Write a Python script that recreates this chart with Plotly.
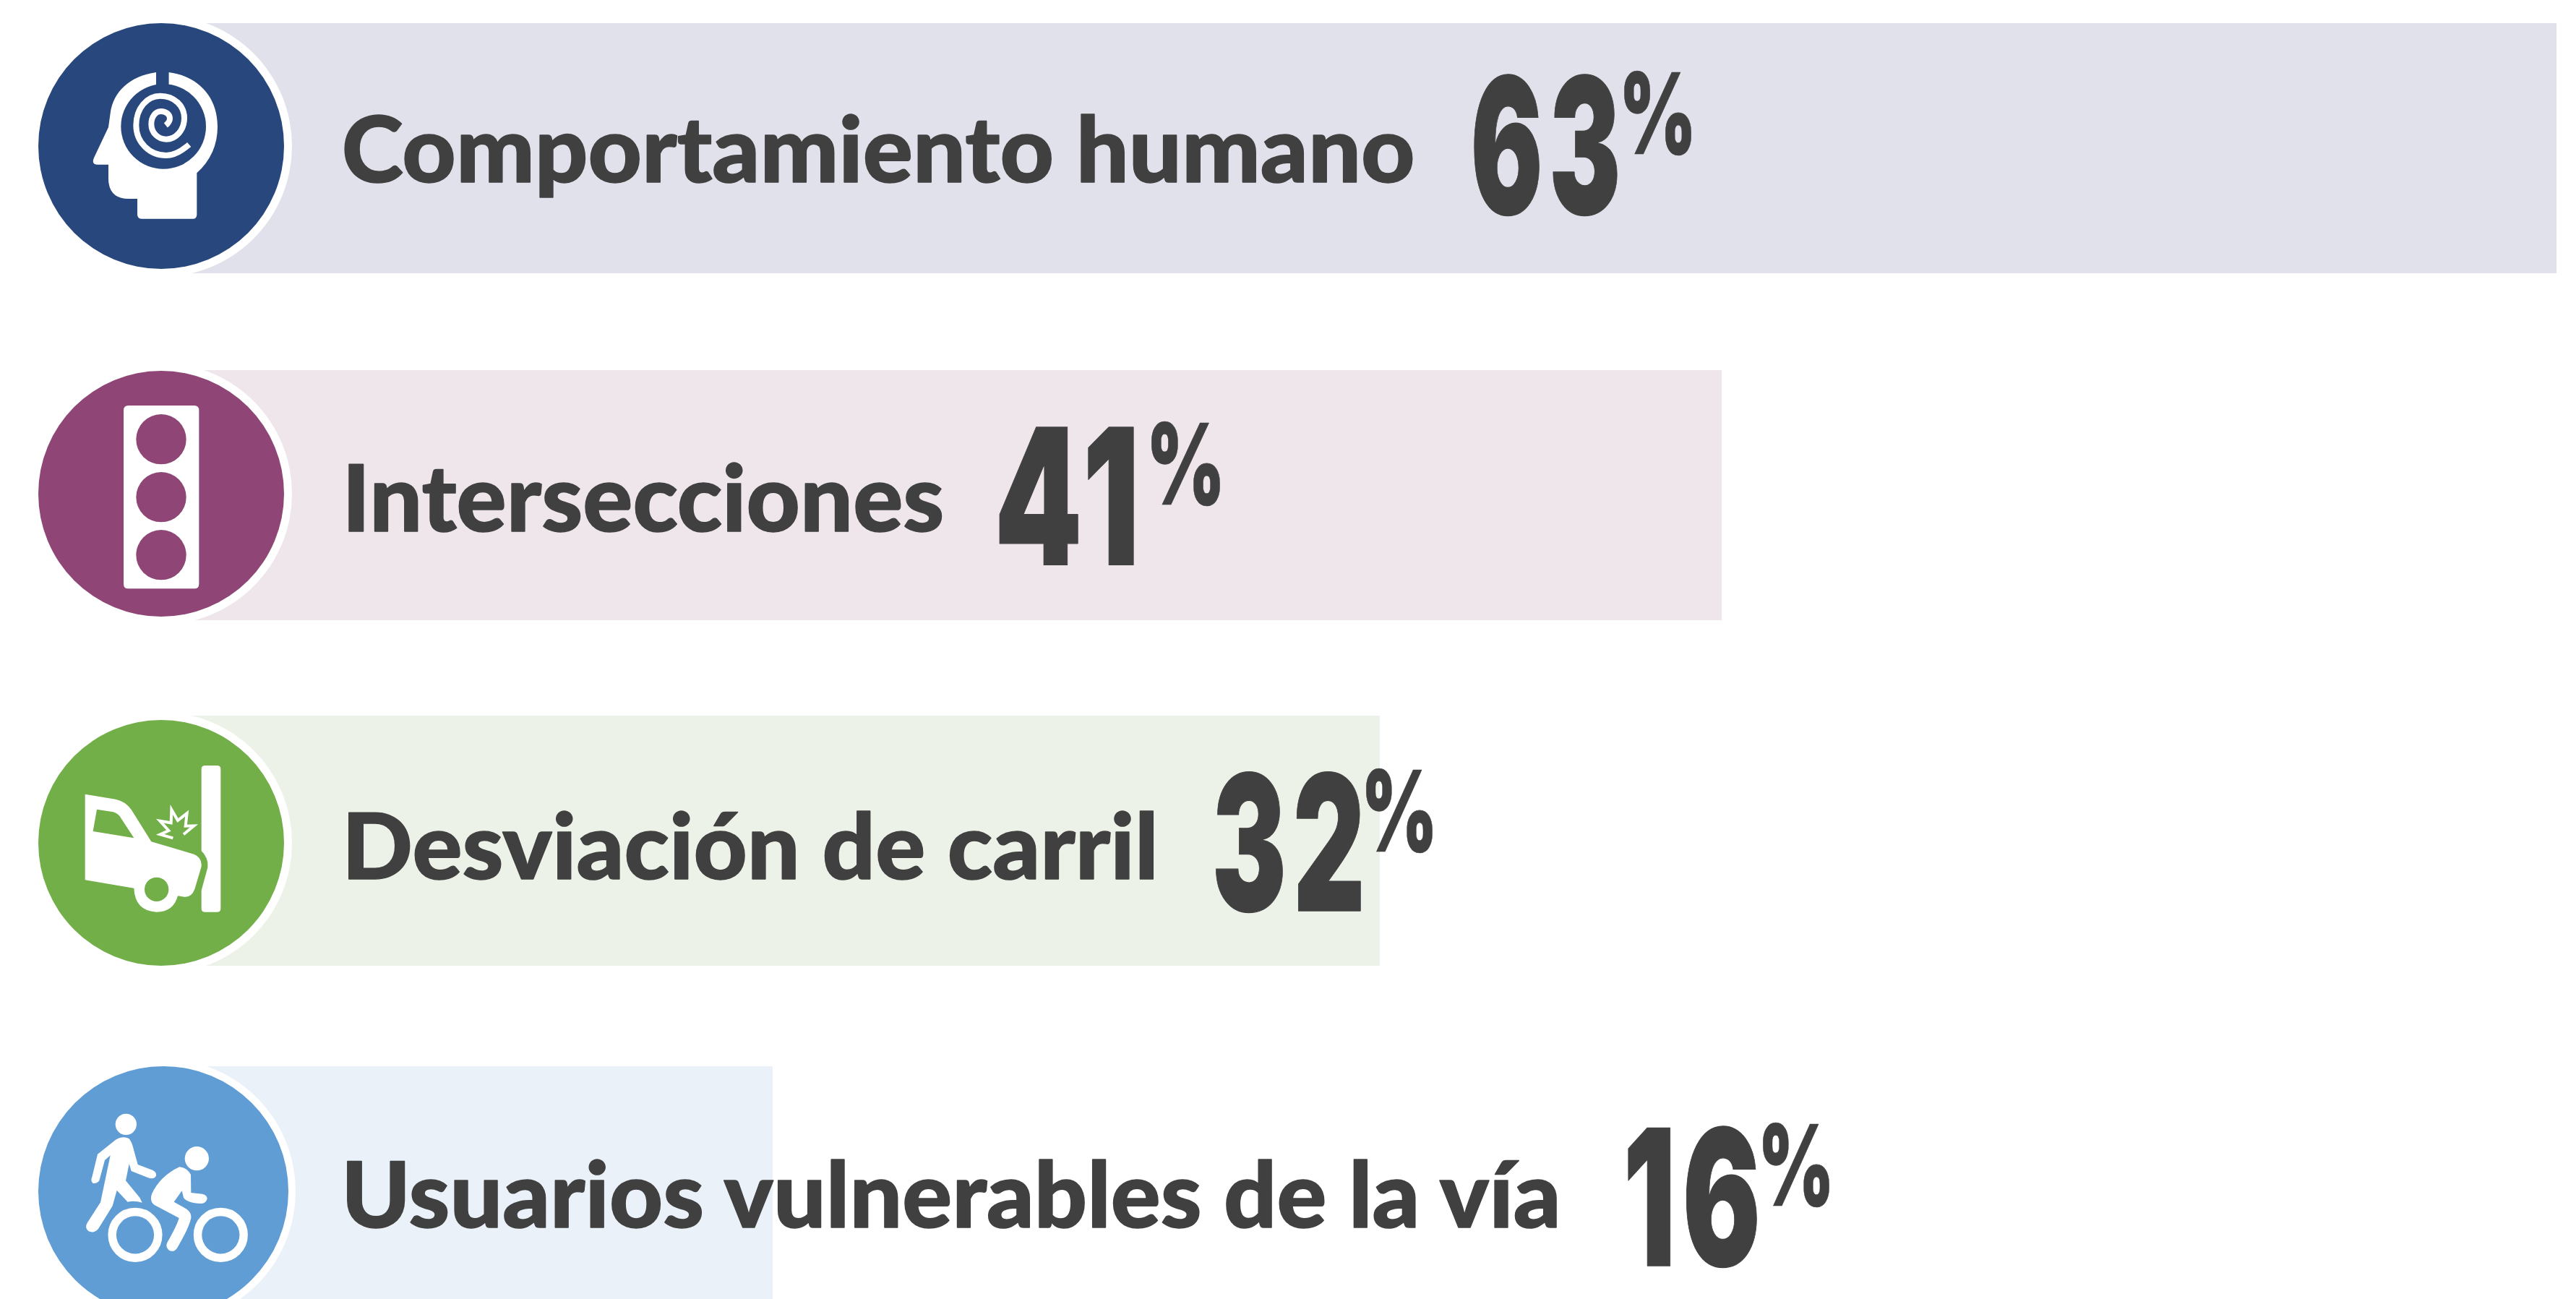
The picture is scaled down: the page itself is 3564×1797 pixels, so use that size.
import json
import re
import plotly.graph_objects as go

# ---- data ----
categories = ["Comportamiento humano", "Intersecciones", "Desviación de carril",
              "Usuarios vulnerables de la vía"]
values = [63, 41, 32, 16]
bar_colors = ["#E0E1EA", "#EFE6EB", "#EDF2E8", "#EAF1F9"]
disc_colors = ["#28477C", "#8F4676", "#72AF49", "#5F9DD4"]

# ---- layout constants (pixels) ----
W, H = 3564, 1797
TEXT = "#404040"
row_centers = [205, 685, 1163, 1648]
bar_height = 346
zero_px, px_per_pct = 229, 52.5
discs = [(223, 202, 170, 181), (223, 683, 170, 181), (223, 1166, 170, 181), (226, 1648, 173, 183)]
label_boxes = [(476, 1955, 157, 274), (482, 1304, 639, 737), (482, 1596, 1121, 1218), (480, 2161, 1603, 1700)]
number_boxes = [(2039, 2238, 102, 299), (1382, 1569, 590, 782), (1682, 1883, 1067, 1263), (2252, 2431, 1557, 1754)]
percent_boxes = [(2247, 2340, 98, 214), (1593, 1688, 583, 699), (1890, 1982, 1063, 1179), (2439, 2531, 1553, 1669)]
LABEL_FONT, NUMBER_FONT = "Lato", "Inter"
LABEL_STROKE, NUMBER_STROKE = 1.5, 1
NUMBER_SPACING = "0.06em"


def px(x, y):
    return x / W, 1 - y / H


def path(d, ox=0, oy=0):
    """Zoomed (3x) icon coordinates to paper coordinates."""
    nums = iter(range(10 ** 6))
    def conv(m):
        i = next(nums)
        v = float(m.group())
        return f"{(ox + v / 3) / W:.6f}" if i % 2 == 0 else f"{1 - (oy + v / 3) / H:.6f}"
    return re.sub(r"-?\d+\.?\d*", conv, d)


def rrect(x0, y0, x1, y1, r):
    return (f"M {x0+r} {y0} L {x1-r} {y0} Q {x1} {y0} {x1} {y0+r} L {x1} {y1-r} Q {x1} {y1} {x1-r} {y1} "
            f"L {x0+r} {y1} Q {x0} {y1} {x0} {y1-r} L {x0} {y0+r} Q {x0} {y0} {x0+r} {y0} Z")


shapes = []


def fill(d, color, ox=0, oy=0):
    shapes.append(dict(type="path", path=path(d, ox, oy), fillcolor=color, line_width=0, xref="paper", yref="paper"))


def stroke(d, color, width, ox=0, oy=0):
    shapes.append(dict(type="path", path=path(d, ox, oy), line=dict(color=color, width=width),
                       fillcolor="rgba(0,0,0,0)", xref="paper", yref="paper"))


def circle(cx, cy, r, color, ox=0, oy=0, scale=1.0, line=None):
    X, Y = ox + cx * scale, oy + cy * scale
    R = r * scale
    x0, y0 = px(X - R, Y - R)
    x1, y1 = px(X + R, Y + R)
    shapes.append(dict(type="circle", x0=x0, x1=x1, y0=y0, y1=y1, xref="paper", yref="paper",
                       fillcolor=color if line is None else "rgba(0,0,0,0)",
                       line=dict(width=0) if line is None else dict(color=color, width=line)))


for (cx, cy, r, ring), col in zip(discs, disc_colors):
    circle(cx, cy, ring, "#FFFFFF")
    circle(cx, cy, r, col)

# head icon
c = disc_colors[0]
fill("M 648 300 C 540 315 470 380 458 470 L 450 528 L 390 655 Q 378 683 405 683 L 450 683 L 450 740 "
     "Q 450 825 535 825 L 570 825 L 570 890 Q 570 908 590 908 L 800 908 Q 817 908 817 890 L 817 718 "
     "Q 903 640 903 525 C 903 400 820 315 700 300 L 700 360 L 648 360 Z", "#FFFFFF")
circle(678.5, 525, 176.5, c, scale=1 / 3)
fill("M 648 295 L 700 295 L 700 360 L 648 360 Z", c)
stroke("M 785 600 C 750 630 720 645 690 645 C 620 645 565 590 565 520 C 565 450 610 398 665 398 "
       "C 725 398 765 440 765 490 C 765 540 730 578 690 578 C 655 578 628 550 628 515 "
       "C 628 485 645 462 668 462 C 690 462 705 475 705 492 C 705 505 698 512 688 520", "#FFFFFF", 8)

# traffic light icon
c = disc_colors[1]
oy = 480
fill(rrect(513, 243, 826, 1003, 20), "#FFFFFF", 0, oy)
for cy in (383, 623, 863):
    circle(669, cy, 104, c, 0, oy, 1 / 3)

# crash icon
c = disc_colors[2]
oy = 970
fill(rrect(836, 267, 916, 875, 15), "#FFFFFF", 0, oy)
fill("M 830 615 Q 868 650 862 690 L 836 785 L 825 785 Z", c, 0, oy)
fill("M 353 386 L 480 407 Q 520 415 545 450 L 628 583 L 805 635 Q 842 650 835 690 L 808 780 "
     "Q 795 815 765 812 L 738 808 Q 720 875 650 875 Q 560 870 556 776 L 353 742 Z", "#FFFFFF", 0, oy)
fill("M 402 449 L 470 460 Q 490 465 502 485 L 556 568 L 386 540 Z", c, 0, oy)
circle(650, 781, 50, c, 0, oy, 1 / 3)
stroke("M 718 568 L 665 553 L 700 537 L 664 497 L 710 505 L 712 450 L 738 495 L 776 465 L 770 518 L 805 517 L 762 553",
       "#FFFFFF", 4, 0, oy)

# pedestrian and cyclist icon
oy = 1440
circle(523, 346, 44, "#FFFFFF", 0, oy, 1 / 3)
fill("M 405 470 L 480 410 Q 510 392 535 405 Q 545 415 552 440 L 572 513 L 635 537 Q 655 548 645 565 "
     "Q 635 575 615 568 L 545 540 L 536 510 L 522 580 L 580 650 L 590 671 Q 560 662 530 668 L 485 620 "
     "L 467 685 L 408 780 Q 390 800 368 790 Q 350 775 362 755 L 417 670 L 458 475 L 435 495 L 412 580 "
     "Q 400 595 385 590 Q 375 580 382 565 Z", "#FFFFFF", 0, oy)
circle(817, 488, 50, "#FFFFFF", 0, oy, 1 / 3)
fill("M 745 523 Q 775 525 792 555 L 793 630 L 840 635 Q 860 640 860 655 Q 855 675 835 675 Q 775 672 762 650 "
     "L 755 622 L 722 668 L 775 698 Q 795 712 793 735 Q 785 775 735 860 Q 720 880 700 868 Q 685 855 695 835 "
     "Q 735 765 743 735 L 640 680 Q 620 665 630 635 Q 665 560 745 523 Z", "#FFFFFF", 0, oy)
for cx in (561, 916):
    circle(cx, 805, 95.5, "#FFFFFF", 0, oy, 1 / 3, line=11.5)

fig = go.Figure(go.Bar(
    x=values, y=row_centers, orientation="h", width=bar_height,
    marker=dict(color=bar_colors, line_width=0), hoverinfo="skip",
))

# text: real text, fitted to its box by the page script below
annotations, boxes = [], []


def add_text(text, box, family, thick, spacing="0px"):
    x, y = px(box[0], box[3])
    annotations.append(dict(text=text, x=x, y=y, xref="paper", yref="paper", xanchor="left", yanchor="bottom",
                            showarrow=False, font=dict(family=family, size=(box[3] - box[2]) * 1.1, color=TEXT, weight=900)))
    boxes.append(list(box) + [thick, spacing])


for cat, val, lb, nb, pb in zip(categories, values, label_boxes, number_boxes, percent_boxes):
    add_text(cat, lb, LABEL_FONT, LABEL_STROKE)
    add_text(str(val), nb, NUMBER_FONT, NUMBER_STROKE, NUMBER_SPACING)
    add_text("%", pb, NUMBER_FONT, 0.5)

fig.update_layout(
    width=W, height=H, margin=dict(l=0, r=0, t=0, b=0), showlegend=False,
    paper_bgcolor="#FFFFFF", plot_bgcolor="#FFFFFF", bargap=0,
    xaxis=dict(range=[-zero_px / px_per_pct, (W - zero_px) / px_per_pct], visible=False, fixedrange=True),
    yaxis=dict(range=[H, 0], visible=False, fixedrange=True),
    shapes=shapes, annotations=annotations,
)

post = """
document.documentElement.style.overflow='hidden';
document.body.style.margin='0';
var boxes=%s;
var gd=document.getElementsByClassName('plotly-graph-div')[0];
var ctx=document.createElement('canvas').getContext('2d');
gd.querySelectorAll('text.annotation-text').forEach(function(el,i){
  var b=boxes[i], th=b[4];
  el.style.letterSpacing=b[5];
  var cs=getComputedStyle(el);
  ctx.font=cs.fontWeight+' '+cs.fontSize+' '+cs.fontFamily;
  ctx.letterSpacing=cs.letterSpacing=='normal'?'0px':cs.letterSpacing;
  var t=el.textContent, m=ctx.measureText(t);
  var ls=parseFloat(ctx.letterSpacing)||0;
  var l=-m.actualBoundingBoxLeft, r=m.actualBoundingBoxRight, a=-m.actualBoundingBoxAscent, d=m.actualBoundingBoxDescent;
  var sx=(b[1]-b[0]-th)/(r-l), sy=(b[3]-b[2]-th)/(d-a);
  var p=el.parentNode.getCTM(), root=el.ownerSVGElement.getCTM()||{e:0,f:0};
  var ox=p.e-(root.e||0), oy=p.f-(root.f||0);
  el.setAttribute('x',0); el.setAttribute('y',0); el.setAttribute('text-anchor','start');
  el.querySelectorAll('tspan').forEach(function(s){s.removeAttribute('x');s.removeAttribute('y');});
  el.setAttribute('transform','matrix('+sx+' 0 0 '+sy+' '+(b[0]+th/2-l*sx-ox)+' '+(b[3]-th/2-d*sy-oy)+')');
  el.style.stroke=cs.fill; el.style.strokeWidth=th+'px'; el.style.vectorEffect='non-scaling-stroke';
  el.style.paintOrder='stroke'; el.style.strokeLinejoin='round';
});
""" % json.dumps(boxes)

fig.write_html("out.html", config=dict(displayModeBar=False, staticPlot=True), post_script=post)
